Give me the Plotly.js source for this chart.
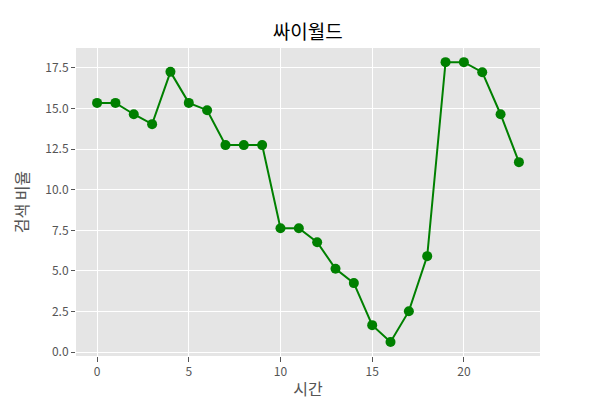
<!DOCTYPE html>
<html>
<head>
<meta charset="utf-8">
<script src="https://cdn.plot.ly/plotly-3.0.1.min.js"></script>
<style>html,body{margin:0;padding:0;background:#fff;}#chart{width:600px;height:400px;}</style>
</head>
<body>
<div id="chart"></div>
<script>
const hours = [0,1,2,3,4,5,6,7,8,9,10,11,12,13,14,15,16,17,18,19,20,21,22,23];
const ratio = [15.35,15.35,14.65,14.04,17.26,15.35,14.9,12.75,12.75,12.75,7.63,7.63,6.77,5.13,4.25,1.66,0.62,2.52,5.91,17.86,17.86,17.24,14.65,11.7];
const titleText = "싸이월드";
const xLabel = "시간";
const yLabel = "검색 비율";
const xTicks = [0,5,10,15,20];
const yTicks = [0,2.5,5,7.5,10,12.5,15,17.5];

const font = "'Noto Sans CJK KR', 'Noto Sans', sans-serif";

Plotly.newPlot('chart', [{
  x: hours, y: ratio, type: 'scatter', mode: 'lines+markers',
  line: {color: 'green', width: 2},
  marker: {color: 'green', size: 10}
}], {
  width: 600, height: 400,
  margin: {l: 76, r: 60, t: 48, b: 44},
  paper_bgcolor: '#ffffff', plot_bgcolor: '#E5E5E5',
  showlegend: false,
  font: {family: font, color: '#555555', size: 12},
  title: {text: titleText, x: 0.513, xanchor: 'center', y: 0.918, yanchor: 'middle', font: {family: font, size: 19, color: '#000000'}},
  xaxis: {
    range: [-1.15, 24.15], tickvals: xTicks, ticktext: xTicks.map(String),
    showgrid: true, gridcolor: '#ffffff', gridwidth: 1, zeroline: false,
    ticks: 'outside', ticklen: 5, tickcolor: '#555555', tickwidth: 1,
    showline: false,
    title: {text: xLabel, font: {family: font, size: 16, color: '#555555'}, standoff: 9},
    tickfont: {size: 12, color: '#555555'}
  },
  yaxis: {
    range: [-0.24, 18.73], tickvals: yTicks, ticktext: yTicks.map(v => v.toFixed(1)),
    showgrid: true, gridcolor: '#ffffff', gridwidth: 1, zeroline: false,
    ticks: 'outside', ticklen: 4, tickcolor: '#555555', tickwidth: 1,
    showline: false,
    title: {text: yLabel, font: {family: font, size: 16, color: '#555555'}, standoff: 12},
    tickfont: {size: 12, color: '#555555'}
  }
}, {displayModeBar: false, staticPlot: true});
</script>
</body>
</html>
